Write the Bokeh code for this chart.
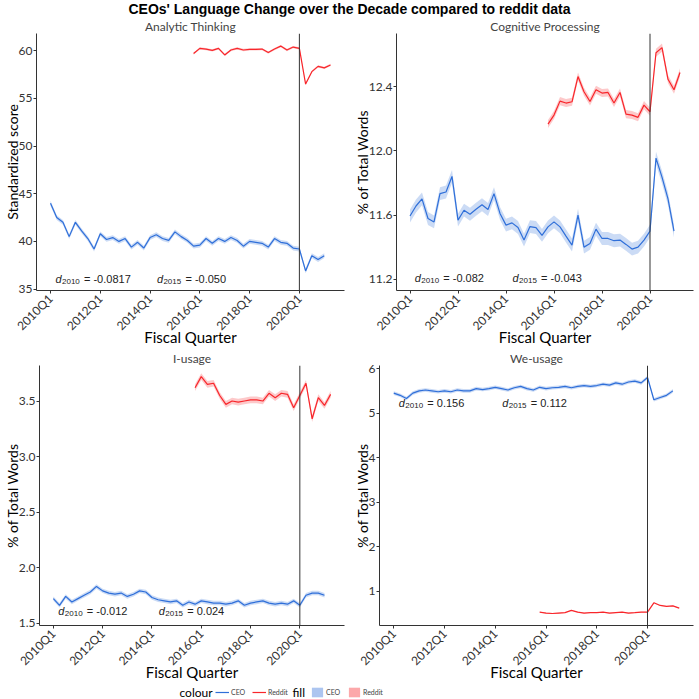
from bokeh.plotting import figure
from bokeh.models import Span, Label, Legend, LegendItem, FixedTicker, Range1d, Div, ColumnDataSource
from bokeh.layouts import column, row
from bokeh.embed import file_html
from bokeh.resources import INLINE
from bokeh.core.properties import value

# ---------------- data ----------------
QUARTERS = [f"{y}Q{q}" for y in range(2010, 2022) for q in (1, 2, 3, 4)][:46]
TICK_LABELS = ["2010Q1", "2012Q1", "2014Q1", "2016Q1", "2018Q1", "2020Q1"]
CEO_QUARTERS = QUARTERS[0:45]      # 2010Q1 .. 2021Q1
REDDIT_QUARTERS = QUARTERS[23:46]  # 2015Q4 .. 2021Q2
EVENT_QUARTER = "2020Q1"

analytic_ceo = [44.0, 42.5, 42.0, 40.5, 42.0, 41.1, 40.3, 39.2, 40.8, 40.2,
                40.4, 40.0, 40.3, 39.4, 39.9, 39.3, 40.4, 40.7, 40.3, 40.1,
                41.0, 40.5, 40.1, 39.5, 39.6, 40.3, 39.8, 40.3, 40.0, 40.4,
                40.1, 39.5, 40.0, 39.9, 39.8, 39.4, 40.3, 39.9, 39.8, 39.3,
                39.2, 36.9, 38.5, 38.1, 38.5]
analytic_reddit = [59.7, 60.24, 60.17, 60.03, 60.24, 59.55, 60.07, 60.24, 60.07, 60.14,
                   60.14, 60.17, 59.8, 60.17, 60.48, 60.07, 60.38, 60.24, 56.5, 57.8,
                   58.35, 58.2, 58.5]

cognitive_ceo = [11.594, 11.656, 11.70, 11.578, 11.557, 11.733, 11.743, 11.84, 11.568, 11.63,
                 11.605, 11.636, 11.664, 11.634, 11.733, 11.61, 11.537, 11.551, 11.522, 11.444,
                 11.528, 11.522, 11.473, 11.526, 11.557, 11.526, 11.469, 11.413, 11.599, 11.40,
                 11.423, 11.512, 11.454, 11.454, 11.44, 11.444, 11.417, 11.388, 11.40, 11.444,
                 11.50, 11.954, 11.836, 11.70, 11.50]
cognitive_reddit = [12.166, 12.222, 12.309, 12.297, 12.305, 12.462, 12.367, 12.307, 12.38, 12.359,
                    12.363, 12.297, 12.363, 12.228, 12.222, 12.208, 12.284, 12.243, 12.61, 12.642,
                    12.445, 12.38, 12.487]

i_ceo = [1.72, 1.66, 1.74, 1.69, 1.72, 1.75, 1.78, 1.83, 1.79, 1.77,
         1.76, 1.77, 1.74, 1.76, 1.79, 1.78, 1.73, 1.71, 1.70, 1.69,
         1.70, 1.66, 1.69, 1.67, 1.70, 1.69, 1.68, 1.68, 1.67, 1.68,
         1.70, 1.66, 1.68, 1.69, 1.70, 1.68, 1.67, 1.68, 1.67, 1.70,
         1.66, 1.75, 1.77, 1.77, 1.75]
i_reddit = [3.62, 3.72, 3.65, 3.66, 3.55, 3.47, 3.50, 3.49, 3.50, 3.51,
            3.51, 3.50, 3.57, 3.53, 3.57, 3.56, 3.44, 3.55, 3.66, 3.34,
            3.53, 3.46, 3.56]

we_ceo = [5.45, 5.40, 5.33, 5.45, 5.50, 5.52, 5.50, 5.48, 5.50, 5.48,
          5.52, 5.50, 5.50, 5.55, 5.53, 5.55, 5.58, 5.55, 5.52, 5.57,
          5.60, 5.55, 5.52, 5.58, 5.55, 5.57, 5.58, 5.60, 5.57, 5.60,
          5.62, 5.60, 5.62, 5.65, 5.63, 5.68, 5.65, 5.70, 5.72, 5.68,
          5.80, 5.30, 5.35, 5.40, 5.50]
we_reddit = [0.53, 0.51, 0.50, 0.51, 0.52, 0.57, 0.53, 0.51, 0.52, 0.52,
             0.53, 0.51, 0.52, 0.53, 0.51, 0.52, 0.53, 0.53, 0.74, 0.68,
             0.66, 0.67, 0.62]

# confidence half-widths (approximate)
ci_analytic = (0.25, 0.12)
ci_cognitive = (0.04, 0.025)
ci_i = (0.02, 0.03)
ci_we = (0.04, 0.01)

# effect size annotations
d2010 = {"analytic": "-0.0817", "cognitive": "-0.082", "i": "-0.012", "we": "0.156"}
d2015 = {"analytic": "-0.050", "cognitive": "-0.043", "i": "0.024", "we": "0.112"}

TITLE = "CEOs' Language Change over the Decade compared to reddit data"

# ---------------- style ----------------
CEO_COL = "#2F6FD9"
RED_COL = "#F8262B"
AX_COL = "#333333"
GFONT = "Lato"
AFONT = "Liberation Sans"


def make_panel(title, ylabel, ceo, reddit, ci, yr, yticks, d_a, d_b, ann_y,
               width, height, lab_fmt=None):
    p = figure(width=width, height=height, output_backend="svg", toolbar_location=None,
               x_range=Range1d(-2.25, 47.25), y_range=Range1d(*yr),
               min_border_left=0, min_border_right=6, min_border_top=0, min_border_bottom=0)
    p.title.text = title
    p.title.align = "center"
    p.title.text_font = GFONT
    p.title.text_font_size = "12px"
    p.title.text_font_style = "normal"
    p.title.text_line_height = 1.0
    p.title.standoff = 0
    p.title.offset = 0
    p.outline_line_color = None
    p.xgrid.visible = False
    p.ygrid.visible = False

    cx = [QUARTERS.index(q) for q in CEO_QUARTERS]
    rx = [QUARTERS.index(q) for q in REDDIT_QUARTERS]
    cs = ColumnDataSource(dict(x=cx, y=ceo, lo=[v - ci[0] for v in ceo], hi=[v + ci[0] for v in ceo]))
    rs = ColumnDataSource(dict(x=rx, y=reddit, lo=[v - ci[1] for v in reddit], hi=[v + ci[1] for v in reddit]))
    p.varea(x="x", y1="lo", y2="hi", source=cs, fill_color=CEO_COL, fill_alpha=0.25)
    p.varea(x="x", y1="lo", y2="hi", source=rs, fill_color=RED_COL, fill_alpha=0.25)
    p.line(x="x", y="y", source=cs, line_color=CEO_COL, line_width=1.2)
    p.line(x="x", y="y", source=rs, line_color=RED_COL, line_width=1.2)

    p.add_layout(Span(location=QUARTERS.index(EVENT_QUARTER), dimension="height",
                      line_color=AX_COL, line_width=1))

    # axes
    tick_idx = [QUARTERS.index(t) for t in TICK_LABELS]
    p.xaxis.ticker = FixedTicker(ticks=tick_idx)
    p.xaxis.major_label_overrides = {i: t for i, t in zip(tick_idx, TICK_LABELS)}
    p.xaxis.major_label_orientation = 0.785398
    p.yaxis.ticker = FixedTicker(ticks=yticks)
    if lab_fmt:
        p.yaxis.major_label_overrides = {t: lab_fmt.format(t) for t in yticks}
    for ax in (p.xaxis, p.yaxis):
        ax.axis_line_color = AX_COL
        ax.major_tick_line_color = AX_COL
        ax.minor_tick_line_color = None
        ax.major_tick_out = 3
        ax.major_tick_in = 0
        ax.major_label_text_font = GFONT
        ax.major_label_text_font_size = "12px"
        ax.major_label_text_color = "#333333"
        ax.axis_label_text_font = GFONT
        ax.axis_label_text_font_style = "normal"
        ax.axis_label_text_color = "black"
    p.xaxis.major_label_standoff = 3
    p.yaxis.major_label_standoff = 1
    p.xaxis.axis_label = "Fiscal Quarter"
    p.xaxis.axis_label_text_font_size = "15px"
    p.xaxis.axis_label_standoff = -14
    p.yaxis.axis_label = ylabel
    p.yaxis.axis_label_text_font_size = "14px"
    p.yaxis.axis_label_standoff = -5

    # d annotations
    for xq, year, val in ((0.8, "2010", d_a), (17.1, "2015", d_b)):
        p.text(x=[xq], y=[ann_y], text=["d"], text_font=value(AFONT), text_font_size="11px",
               text_font_style="italic", text_baseline="middle", text_align="left", text_color="#222222")
        p.text(x=[xq], y=[ann_y], text=[year], text_font=value(AFONT), text_font_size="8px",
               text_baseline="middle", text_align="left", x_offset=6.5, y_offset=3, text_color="#222222")
        p.text(x=[xq], y=[ann_y], text=["= " + val], text_font=value(AFONT), text_font_size="11px",
               text_baseline="middle", text_align="left", x_offset=28.5, text_color="#222222")
    return p


W_L, W_R = 350, 349
H_TOP, H_BOT = 332, 335

p1 = make_panel("Analytic Thinking", "Standardized score", analytic_ceo, analytic_reddit, ci_analytic,
                (34.85, 61.8), [35, 40, 45, 50, 55, 60], d2010["analytic"], d2015["analytic"], 36.1,
                W_L, H_TOP)
p2 = make_panel("Cognitive Processing", "% of Total Words", cognitive_ceo, cognitive_reddit, ci_cognitive,
                (11.13, 12.73), [11.2, 11.6, 12.0, 12.4], d2010["cognitive"], d2015["cognitive"], 11.21,
                W_R, H_TOP, lab_fmt="{:.1f}")
p3 = make_panel("I-usage", "% of Total Words", i_ceo, i_reddit, ci_i,
                (1.478, 3.82), [1.5, 2.0, 2.5, 3.0, 3.5], d2010["i"], d2015["i"], 1.61,
                W_L, H_BOT, lab_fmt="{:.1f}")
p4 = make_panel("We-usage", "% of Total Words", we_ceo, we_reddit, ci_we,
                (0.23, 6.07), [1, 2, 3, 4, 5, 6], d2010["we"], d2015["we"], 5.23,
                W_R, H_BOT)

# ---------------- title ----------------
title_div = Div(text=TITLE, width=699, height=16, margin=(0, 0, 0, 0),
                styles={"font-family": "Liberation Sans", "font-weight": "bold", "font-size": "14px",
                        "text-align": "center", "width": "699px", "line-height": "18px", "color": "black"})

# ---------------- legend ----------------
leg = figure(width=699, height=16, output_backend="svg", toolbar_location=None,
             x_range=Range1d(0, 1), y_range=Range1d(0, 1), min_border=0)
leg.axis.visible = False
leg.xgrid.visible = False
leg.ygrid.visible = False
leg.outline_line_color = None
# legend-only proxy glyphs (placed outside the visible range)
lc = leg.line(x=[5, 6], y=[5, 6], line_color=CEO_COL, line_width=1.2)
lr = leg.line(x=[5, 6], y=[5, 6], line_color=RED_COL, line_width=1.2)
fc = leg.quad(left=[5], right=[6], top=[6], bottom=[5], fill_color=CEO_COL, fill_alpha=0.4, line_color=None)
fr = leg.quad(left=[5], right=[6], top=[6], bottom=[5], fill_color=RED_COL, fill_alpha=0.4, line_color=None)


def mk_legend(items, loc):
    lg = Legend(items=items, location=loc, orientation="horizontal",
                label_text_font=GFONT, label_text_font_size="7px", label_standoff=2,
                glyph_width=14, glyph_height=12, spacing=1, padding=0, margin=0,
                border_line_color=None, background_fill_alpha=0)
    return lg


leg.add_layout(mk_legend([LegendItem(label="CEO", renderers=[lc]),
                          LegendItem(label="Reddit", renderers=[lr])], (215, 1)))
leg.add_layout(mk_legend([LegendItem(label="CEO", renderers=[fc]),
                          LegendItem(label="Reddit", renderers=[fr])], (310, 1)))
leg.add_layout(Label(x=179, y=0, x_units="screen", y_units="screen", text="colour",
                     text_font=GFONT, text_font_size="12px", text_color="black"))
leg.add_layout(Label(x=292, y=0, x_units="screen", y_units="screen", text="fill",
                     text_font=GFONT, text_font_size="12px", text_color="black"))

layout = column(title_div, row(p1, p2), row(p3, p4), leg, spacing=0)

open("out.html", "w").write(file_html(layout, INLINE))
